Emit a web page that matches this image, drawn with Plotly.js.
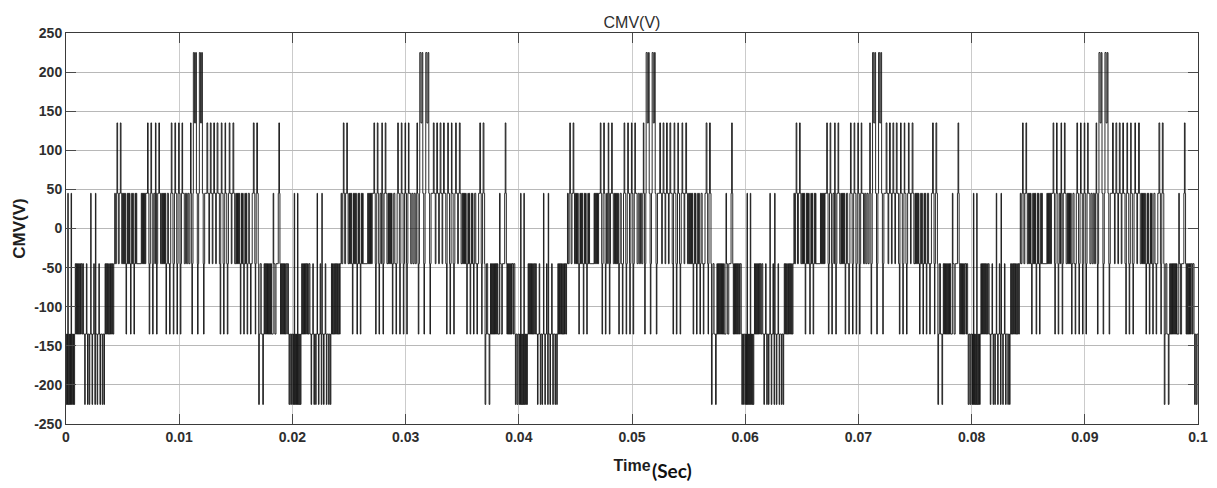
<!DOCTYPE html>
<html>
<head>
<meta charset="utf-8">
<script src="https://cdn.plot.ly/plotly-3.0.1.min.js"></script>
<style>
  html, body { margin: 0; padding: 0; background: #ffffff; }
  #chart { width: 1217px; height: 488px; }
</style>
</head>
<body>
<div id="chart"></div>
<script>
// One 20 ms cycle of the common-mode voltage:
// switching instants (ms, relative to the start of the cycle) and the level held after each one (V).
var cycleT = [
  0.00,0.03,0.08,0.12,0.16,0.20,0.26,0.30,0.36,0.40,0.45,0.49,0.55,0.60,0.66,0.70,0.76,
  0.82,0.87,0.92,0.97,1.02,1.07,1.12,1.17,1.22,1.28,1.33,1.40,1.47,1.55,
  1.65,1.70,1.80,1.85,1.90,1.95,2.05,2.10,2.18,2.22,2.30,2.35,2.45,2.50,2.55,2.60,2.64,2.75,2.80,2.90,2.95,3.00,3.05,3.20,3.25,3.35,3.40,
  3.45,3.50,3.55,3.60,3.66,3.71,3.77,3.82,3.88,3.93,3.99,4.04,4.10,4.16,4.22,
  4.30,4.36,4.45,4.50,4.56,4.62,4.70,4.80,4.86,4.92,
  5.00,5.05,5.10,5.15,5.20,5.25,5.30,5.35,5.40,5.45,5.50,5.55,5.60,5.65,5.70,5.75,5.80,5.85,5.90,5.95,6.00,6.05,6.10,6.15,6.20,6.25,
  6.65,6.70,6.75,6.80,6.85,6.90,6.95,7.00,7.05,
  7.20,7.26,7.32,7.35,7.40,7.45,7.50,7.56,7.62,7.65,7.70,7.75,7.85,7.90,7.95,8.00,8.05,8.10,8.20,8.26,8.35,8.45,
  8.50,8.55,8.60,8.65,8.70,8.75,
  8.80,8.83,8.88,8.95,9.05,9.15,9.20,9.25,9.30,9.36,9.45,9.48,9.53,9.58,9.62,9.68,9.78,9.80,9.85,9.90,9.95,10.00,10.08,10.10,10.15,10.20,10.25,10.30,
  10.45,10.55,10.65,10.75,10.85,10.95,
  11.00,11.05,11.10,11.12,11.17,11.22,11.25,11.35,11.45,11.52,11.60,11.62,11.67,11.72,11.78,11.88,11.98,12.05,12.12,12.15,12.20,12.25,
  12.45,12.52,12.62,12.68,12.75,12.82,12.92,12.98,13.05,13.12,13.22,13.28,13.35,13.42,13.55,13.62,13.67,13.72,13.78,13.88,13.92,13.97,14.02,14.05,14.10,14.20,14.25,14.30,14.35,14.42,14.48,14.60,14.66,14.75,14.82,14.90,
  15.00,15.05,15.10,15.15,15.20,15.25,15.30,15.35,15.40,15.45,15.50,15.55,15.60,15.65,15.70,15.75,15.80,15.85,15.90,15.95,16.00,16.05,16.10,16.20,16.30,16.35,16.45,
  16.55,16.62,16.68,16.72,16.76,16.80,16.85,16.92,16.98,
  17.02,17.08,17.15,17.25,17.38,17.44,
  17.50,17.55,17.60,17.65,17.70,17.75,17.80,17.85,17.90,17.95,18.00,18.05,18.10,18.15,
  18.30,18.35,18.45,18.55,18.75,18.80,18.86,18.90,
  18.95,19.00,19.05,19.10,19.15,19.20,19.25,19.30,19.35,19.40,19.50,19.55,
  19.65,19.70,19.76,19.85,19.92
];
var cycleV = [
  -135,-225,-135,-225,45,-225,-135,-225,-135,-225,45,-225,-135,-225,-135,-225,-135,
  -45,-135,-45,-135,-45,-135,-45,-135,-45,-135,-45,-135,-45,-135,
  -225,-135,-45,-135,-225,-135,-225,-135,45,-135,-225,-135,-45,-135,-225,45,-135,-225,-135,-45,-135,-225,-135,-225,-135,-225,-135,
  -45,-135,-45,-135,-45,-135,-45,-135,-45,-135,-45,-135,-45,-135,-45,
  45,-45,45,135,45,-45,45,135,45,-45,
  45,-45,45,-45,45,-45,-135,-45,45,-45,45,-45,45,-45,-135,-45,45,-45,45,-45,-135,-45,45,-45,45,-45,
  45,-45,45,-45,45,-45,45,-45,45,
  135,45,-45,-135,-45,45,135,45,-45,-135,-45,45,-45,135,45,-135,-45,45,135,45,-45,45,
  -45,45,-45,45,-45,45,
  -45,-135,-45,45,-45,-135,-45,45,135,45,-45,-135,-45,45,135,45,-45,-135,-45,45,135,45,-45,-135,-45,45,135,45,
  -45,45,-45,45,-45,45,
  135,45,-45,-135,-45,45,225,135,225,45,-45,-135,-45,45,225,135,225,45,-45,-135,-45,45,
  135,45,-45,45,135,45,-45,45,135,45,-45,45,135,45,-45,-135,45,135,45,-45,-135,-45,45,135,45,-45,-135,-45,45,135,45,-45,45,135,45,-45,
  45,-45,45,-45,45,-45,45,-45,-135,-45,45,-45,45,-45,-135,-45,45,-45,45,-45,-135,-45,45,-45,-135,-45,45,
  135,45,-45,-135,-45,45,135,45,-45,
  -225,-135,-45,-135,-225,-135,
  -45,-135,-45,-135,-45,-135,-45,-135,-45,-135,-45,-135,-45,-135,
  45,-45,-135,-45,45,135,45,-45,
  -135,-45,-135,-45,-135,-45,-135,-45,-135,-45,-135,-45,
  -135,-225,-135,-225,-135
];
// Start of each of the five cycles visible in the picture (ms) and the end of the record
var cycleStartsMs = [0, 20, 40, 60, 80];
var endMs = 100;

// Axis ticks
var xTickVals = [0, 0.01, 0.02, 0.03, 0.04, 0.05, 0.06, 0.07, 0.08, 0.09, 0.1];
var xTickText = ['0', '0.01', '0.02', '0.03', '0.04', '0.05', '0.06', '0.07', '0.08', '0.09', '0.1'];
var yTickVals = [-250, -200, -150, -100, -50, 0, 50, 100, 150, 200, 250];
var yTickText = ['-250', '-200', '-150', '-100', '-50', '0', '50', '100', '150', '200', '250'];

// Texts
var chartTitle = 'CMV(V)';
var yTitle = 'CMV(V)';
var xTitle = 'Time';
var xUnit = '(Sec)';

var xs = [], ys = [];
cycleStartsMs.forEach(function (s) {
  for (var i = 0; i < cycleT.length; i++) {
    xs.push((s + cycleT[i]) / 1000);
    ys.push(cycleV[i]);
  }
});
xs.push(endMs / 1000);
ys.push(ys[ys.length - 1]);

var FONT = 'Liberation Sans, Arial, Helvetica, sans-serif';
var axisCommon = {
  showline: true, linecolor: '#3a3a3a', linewidth: 1, mirror: 'ticks',
  ticks: 'inside', ticklen: 10, tickcolor: '#4a4a4a', tickwidth: 1,
  showgrid: true, gridwidth: 1, zeroline: false,
  tickfont: { family: FONT, size: 14, color: '#2e2e2e', weight: 'bold' },
  tickmode: 'array'
};

var layout = {
  width: 1217, height: 488,
  margin: { l: 66, r: 19, t: 33, b: 64, pad: 0 },
  paper_bgcolor: '#ffffff', plot_bgcolor: '#ffffff',
  showlegend: false,
  title: {
    text: chartTitle,
    font: { family: FONT, size: 16, color: '#2e2e2e' },
    x: 0.5, xref: 'paper', xanchor: 'center',
    y: 1 - 22 / 488, yref: 'container', yanchor: 'middle'
  },
  xaxis: Object.assign({}, axisCommon, {
    range: [0, 0.1], tickvals: xTickVals, ticktext: xTickText,
    gridcolor: '#cbcbcb',
    title: { text: xTitle, standoff: 16, font: { family: FONT, size: 16, color: '#1e1e1e', weight: 'bold' } }
  }),
  yaxis: Object.assign({}, axisCommon, {
    range: [-250, 250], tickvals: yTickVals, ticktext: yTickText,
    gridcolor: '#b8b8b8',
    title: { text: yTitle, standoff: 4, font: { family: FONT, size: 17, color: '#1e1e1e', weight: 'bold' } }
  }),
  annotations: [{
    text: xUnit, showarrow: false,
    xref: 'paper', yref: 'paper', x: 0.5155, y: -0.12, xanchor: 'left', yanchor: 'middle',
    font: { family: 'Lato, Open Sans, sans-serif', size: 19, color: '#111111', weight: 'bold' }
  }]
};

var trace = {
  type: 'scatter', mode: 'lines',
  x: xs, y: ys,
  line: { shape: 'hv', color: '#141414', width: 0.9 },
  hoverinfo: 'skip'
};

Plotly.newPlot('chart', [trace], layout, { staticPlot: true, displayModeBar: false });
</script>
</body>
</html>
